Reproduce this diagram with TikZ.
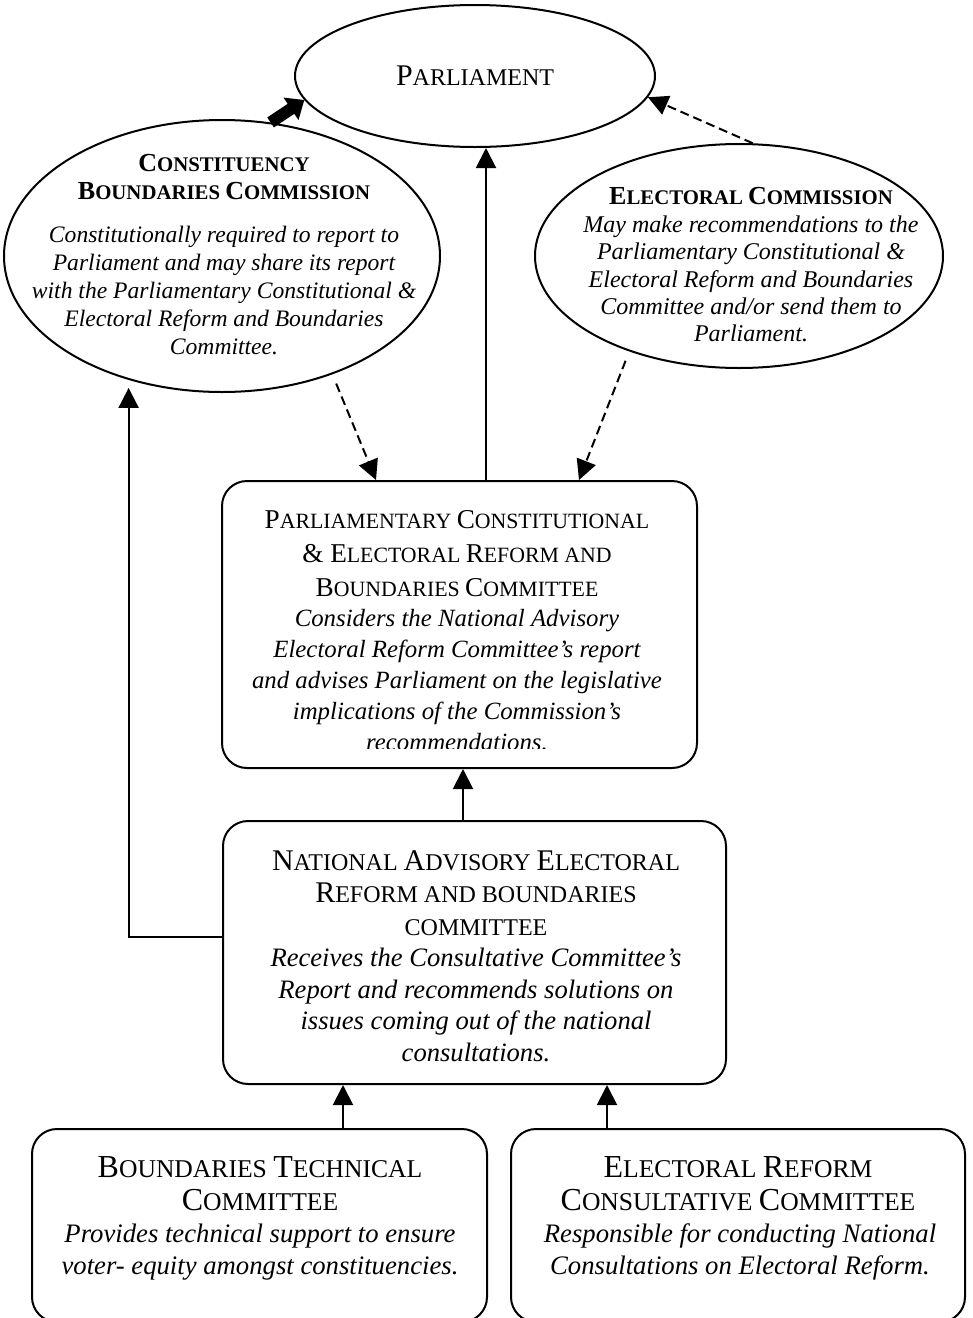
\documentclass[tikz,border=0pt]{standalone}
\usepackage{fontspec}
\setmainfont{Liberation Serif}
\usetikzlibrary{arrows.meta,shapes.geometric,calc}
\newcommand\fs[2]{\fontsize{#1}{#2}\selectfont}
\newcommand\smc[2]{{\fontsize{#1}{#1}\selectfont #2}}
\tikzset{
  oval/.style={ellipse, draw, line width=1pt, inner sep=0pt},
  rbox/.style={rectangle, draw, rounded corners=12.5pt, line width=1pt, inner sep=0pt},
  txt/.style={align=center, inner sep=0pt},
  arr/.style={-{Triangle[width=10pt,length=10pt]}, line width=1pt},
  darr/.style={arr, dash pattern=on 4.5pt off 2.5pt},
  fatarr/.style={-{Triangle[width=13pt,length=8pt]}, line width=6pt},
}
\begin{document}
\begin{tikzpicture}[x=0.5pt,y=-0.5pt]
\useasboundingbox (0,0) rectangle (973,1318);
% ellipses
\node[oval, minimum width=180pt, minimum height=71pt] (parl) at (475,76) {};
\node[txt, font=\fs{15}{18}] (parltxt) at (475,76) {P\smc{12}{ARLIAMENT}};
\node[oval, minimum width=218pt, minimum height=136pt] (cbc) at (222,256) {};
\node[txt, font=\bfseries\fs{13}{14}] (cbchead) at (224,177) {C\smc{10.4}{ONSTITUENCY}\\B\smc{10.4}{OUNDARIES }C\smc{10.4}{OMMISSION}};
\node[txt, font=\itshape\fs{11.8}{14}] (cbcbody) at (224,290) {Constitutionally required to report to\\Parliament and may share its report\\with the Parliamentary Constitutional \&\\Electoral Reform and Boundaries\\Committee.};
\node[oval, minimum width=204pt, minimum height=112pt] (ec) at (739,256) {};
\node[txt, font=\bfseries\fs{13}{14}] (echead) at (751,196) {E\smc{10.4}{LECTORAL }C\smc{10.4}{OMMISSION}};
\node[txt, font=\itshape\fs{12}{13.7}] (ecbody) at (751,279) {May make recommendations to the\\Parliamentary Constitutional \&\\Electoral Reform and Boundaries\\Committee and/or send them to\\Parliament.};
% boxes
\node[rbox, minimum width=237.5pt, minimum height=143.5pt] (pcerbc) at (459.5,624.5) {};
\begin{scope}
\clip (222,481) rectangle (697,748);
\node[txt, font=\fs{13.6}{17}] (pcerbchead) at (457,554) {P\smc{10.9}{ARLIAMENTARY }C\smc{10.9}{ONSTITUTIONAL}\\\&\ E\smc{10.9}{LECTORAL }R\smc{10.9}{EFORM AND}\\B\smc{10.9}{OUNDARIES }C\smc{10.9}{OMMITTEE}};
\node[txt, font=\itshape\fs{12.4}{15.5}] (pcerbcbody) at (457,680) {Considers the National Advisory\\Electoral Reform Committee’s report\\and advises Parliament on the legislative\\implications of the Commission’s\\recommendations.};
\end{scope}
\node[rbox, minimum width=251.5pt, minimum height=131.5pt] (naerbc) at (474.5,952.5) {};
\node[txt, font=\fs{15}{16.25}] (naerbchead) at (476,893) {N\smc{12}{ATIONAL }A\smc{12}{DVISORY }E\smc{12}{LECTORAL}\\R\smc{12}{EFORM AND BOUNDARIES}\\\smc{12}{COMMITTEE}};
\node[txt, font=\itshape\fs{13.3}{15.7}] (naerbcbody) at (476,1005) {Receives the Consultative Committee’s\\Report and recommends solutions on\\issues coming out of the national\\consultations.};
\node[rbox, minimum width=227.5pt, minimum height=96.5pt] (btc) at (259.5,1225.5) {};
\node[txt, font=\fs{16}{16.75}] (btchead) at (260,1183.5) {B\smc{12.8}{OUNDARIES }T\smc{12.8}{ECHNICAL}\\C\smc{12.8}{OMMITTEE}};
\node[txt, font=\itshape\fs{13.35}{16}] (btcbody) at (260,1252) {Provides technical support to ensure\\voter- equity amongst constituencies.};
\node[rbox, minimum width=227pt, minimum height=96.5pt] (ercc) at (738,1225.5) {};
\node[txt, font=\fs{16}{16.75}] (ercchead) at (738,1183.5) {E\smc{12.8}{LECTORAL }R\smc{12.8}{EFORM}\\C\smc{12.8}{ONSULTATIVE }C\smc{12.8}{OMMITTEE}};
\node[txt, font=\itshape\fs{13.35}{16}] (erccbody) at (740,1252) {Responsible for conducting National\\Consultations on Electoral Reform.};
% connectors
\draw[fatarr] (cbc.70) -- (parl.188);
\draw[darr] (ec.83.4) -- (parl.-7);
\coordinate (vx) at (486,0);
\draw[arr] (vx |- pcerbc.north) -- (vx |- parl.south);
\draw[darr, shorten <=5pt] (cbc.-47) -- ($(pcerbc.north west)+(155,0)$);
\draw[darr, shorten <=5pt] (ec.-139.5) -- ($(pcerbc.north west)+(358,0)$);
\coordinate (c1) at (463,0);
\draw[arr] (c1 |- naerbc.north) -- (c1 |- pcerbc.south);
\coordinate (c2) at (343,0);
\draw[arr] (c2 |- btc.north) -- (c2 |- naerbc.south);
\coordinate (c3) at (607,0);
\draw[arr] (c3 |- ercc.north) -- (c3 |- naerbc.south);
\coordinate (c4) at (0,937);
\draw[arr, shorten >=4pt] (c4 -| naerbc.west) -| (cbc.-127.9);
\end{tikzpicture}
\end{document}
